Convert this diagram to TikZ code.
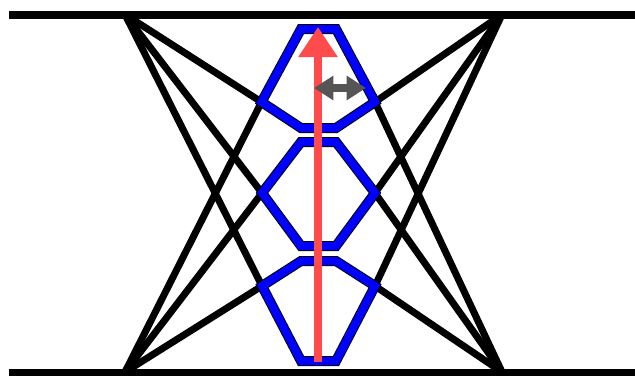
\documentclass[tikz,border=0pt]{standalone}
\usetikzlibrary{arrows.meta}
\definecolor{redarrow}{RGB}{255,75,75}
\definecolor{greyarrow}{RGB}{85,85,85}
\definecolor{hexblue}{RGB}{0,0,255}
\tikzset{
  rail/.style={line width=6pt, black},
  strut/.style={line width=5.25pt, black, line cap=round},
  hexshadow/.style={line width=7.5pt, black, line join=miter},
  hexline/.style={line width=6pt, hexblue, line join=miter},
  liftarrow/.style={line width=6pt, redarrow, -{Triangle[length=22.5pt,width=28pt]}},
  widtharrow/.style={line width=6pt, greyarrow, {Triangle[length=14.5pt,width=17.5pt]}-{Triangle[length=14.5pt,width=17.5pt]}}
}
\begin{document}
\begin{tikzpicture}[x=0.75pt,y=-0.75pt]
\useasboundingbox (0,0) rectangle (635,375);
% corners and rail ends
\coordinate (TL) at (125,14.5);
\coordinate (TR) at (502,14.5);
\coordinate (BL) at (125,372);
\coordinate (BR) at (502,372);
\coordinate (TS) at (9,14.5);
\coordinate (TE) at (635,14.5);
\coordinate (BS) at (9,373);
\coordinate (BE) at (635,373);
% top hexagon
\coordinate (a1) at (301,29);
\coordinate (a2) at (336,29);
\coordinate (a3) at (375,102);
\coordinate (a4) at (336,128);
\coordinate (a5) at (301,128);
\coordinate (a6) at (261.5,102);
% middle hexagon
\coordinate (b1) at (301,142);
\coordinate (b2) at (336,142);
\coordinate (b3) at (375,193);
\coordinate (b4) at (336,246);
\coordinate (b5) at (301,246);
\coordinate (b6) at (262,193);
% bottom hexagon
\coordinate (c1) at (301,261);
\coordinate (c2) at (336,261);
\coordinate (c3) at (375,286);
\coordinate (c4) at (336,361);
\coordinate (c5) at (301,361);
\coordinate (c6) at (262,286);
% arrows
\coordinate (r0) at (318,362);
\coordinate (r1) at (318,27);
\coordinate (g0) at (314,88);
\coordinate (g1) at (366,88);

% rails
\draw[rail] (TS) -- (TE);
\draw[rail] (BS) -- (BE);
% struts
\foreach \v in {a6,b6,c6} {
  \draw[strut] (TL) -- (\v);
  \draw[strut] (BL) -- (\v);
}
\foreach \v in {a3,b3,c3} {
  \draw[strut] (TR) -- (\v);
  \draw[strut] (BR) -- (\v);
}
% hexagons
\foreach \h in {a,b,c} {
  \draw[hexshadow, xshift=1.5] (\h1) -- (\h2) -- (\h3) -- (\h4) -- (\h5) -- (\h6) -- cycle;
  \draw[hexline] (\h1) -- (\h2) -- (\h3) -- (\h4) -- (\h5) -- (\h6) -- cycle;
}
% red lift arrow
\draw[liftarrow] (r0) -- (r1);
% grey width arrow
\draw[widtharrow] (g0) -- (g1);
\end{tikzpicture}
\end{document}
